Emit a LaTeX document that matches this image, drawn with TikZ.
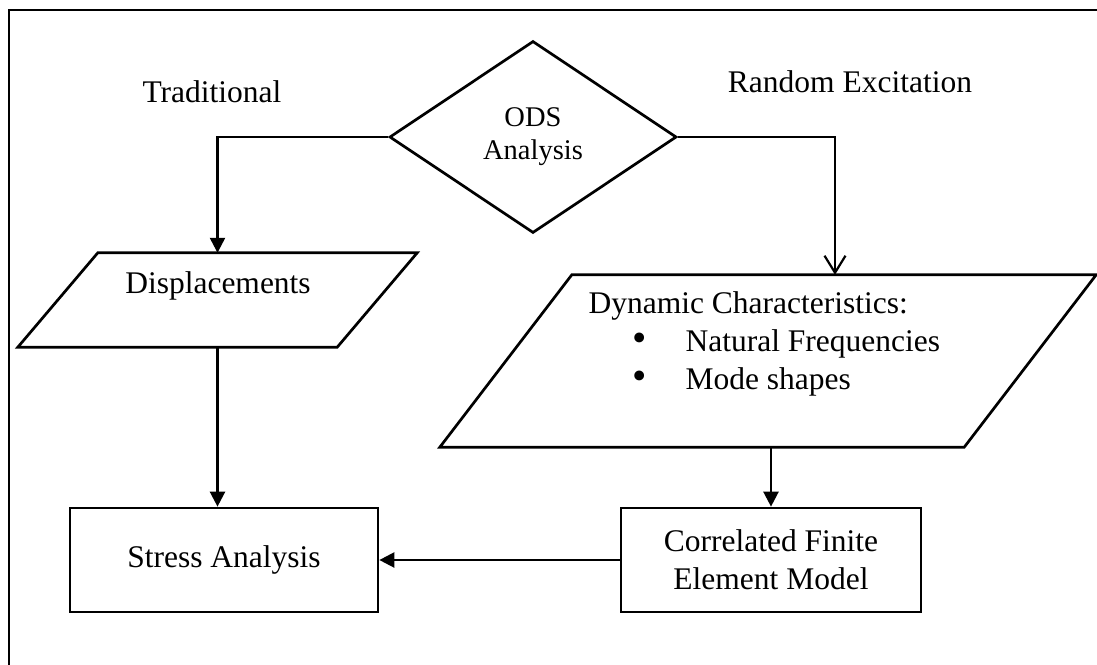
\documentclass[tikz,border=0pt]{standalone}
\usepackage{fontspec}
\setmainfont{Liberation Serif}
\usetikzlibrary{shapes.geometric,arrows.meta,calc}

\tikzset{
  bigtext/.style={font=\fontsize{31.5}{38}\selectfont},
  smalltext/.style={font=\fontsize{28.5}{33}\selectfont},
  boxnode/.style={draw, line width=2.7pt, inner sep=0pt, bigtext, align=center},
  slantbox/.style={inner sep=0pt},
  slantline/.style={line width=2.7pt, line join=miter},
  link/.style={line width=2.4pt, -{Triangle[width=15pt,length=15pt]}},
  openlink/.style={line width=2.4pt, -{Straight Barb[width=21pt,length=17pt,line width=2.2pt]}},
}

\begin{document}
\begin{tikzpicture}[x=1pt,y=-1pt]
  \useasboundingbox (0,0) rectangle (1097,664);
  \fill[white] (0,0) rectangle (1097,664);

  % outer frame
  \draw[line width=2.5pt] (9,680) -- (9,10) -- (1110,10);

  % decision
  \node[draw, diamond, line width=2.7pt, minimum width=287pt, minimum height=192pt,
        inner sep=0pt, smalltext, align=center] (ods) at (533,137) {ODS\\Analysis};

  % branch labels
  \node[bigtext, anchor=base] (trad) at (212,102) {Traditional};
  \node[bigtext, anchor=base] (rand) at (850,92) {Random Excitation};

  % displacements (parallelogram)
  \node[slantbox, minimum width=399pt, minimum height=94pt] (disp) at (217.5,300) {};
  \draw[slantline] ($(disp.north west)+(80,0)$) -- (disp.north east)
        -- ($(disp.south east)-(80,0)$) -- (disp.south west) -- cycle;
  \node[bigtext, anchor=base] (displabel) at (218,293) {Displacements};

  % dynamic characteristics (parallelogram)
  \node[slantbox, minimum width=656pt, minimum height=172pt] (dyn) at (768,361) {};
  \draw[slantline] ($(dyn.north west)+(132,0)$) -- (dyn.north east)
        -- ($(dyn.south east)-(132,0)$) -- (dyn.south west) -- cycle;
  \node[bigtext, anchor=base west] (dynhead) at (585,313) {Dynamic Characteristics:};
  \node[bigtext, anchor=base] (bulA) at (640,351) {\scalebox{1.3}{\textbullet}};
  \node[bigtext, anchor=base west] (itemA) at (682,351) {Natural Frequencies};
  \node[bigtext, anchor=base] (bulB) at (640,389) {\scalebox{1.3}{\textbullet}};
  \node[bigtext, anchor=base west] (itemB) at (682,389) {Mode shapes};

  % boxes
  \node[boxnode, minimum width=308pt, minimum height=104pt] (stress) at (224,560) {Stress Analysis};
  \node[boxnode, minimum width=300pt, minimum height=104pt] (corr) at (771,560)
        {Correlated Finite\\Element Model};

  % connectors
  \draw[link] (ods.west) -| (disp.north);
  \draw[openlink] (ods.east) -| ([xshift=67pt]dyn.north);
  \draw[link] (disp.south) -- (disp.south |- stress.north);
  \draw[link] (corr.north |- dyn.south) -- (corr.north);
  \draw[link] (corr.west) -- (stress.east);
\end{tikzpicture}
\end{document}
